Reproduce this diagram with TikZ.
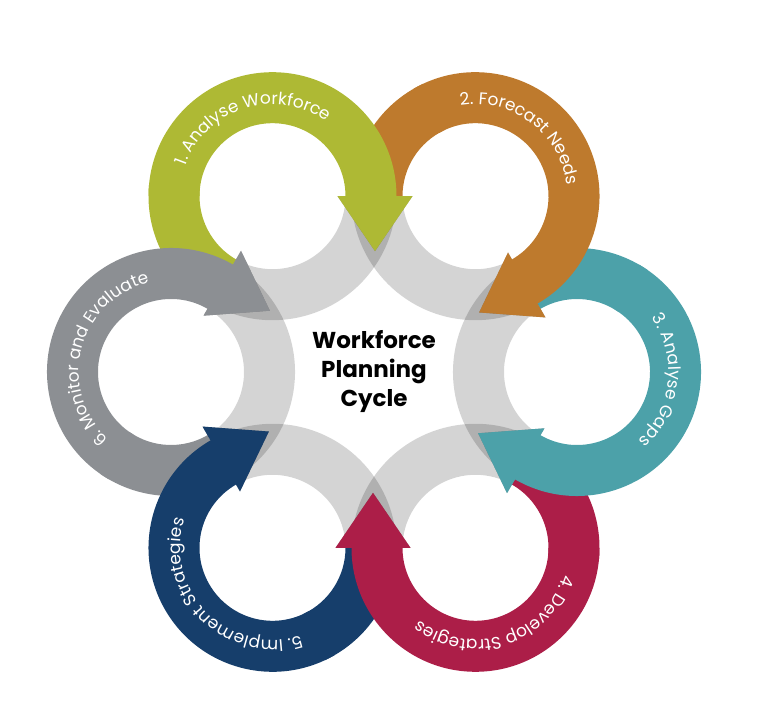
\documentclass[tikz,border=0pt]{standalone}
\usepackage{fontspec}
\setmainfont{Poppins}
\usetikzlibrary{decorations.text}

\definecolor{wfgreen}{RGB}{174,185,52}
\definecolor{wforange}{RGB}{190,122,45}
\definecolor{wfteal}{RGB}{76,161,169}
\definecolor{wfred}{RGB}{172,30,72}
\definecolor{wfblue}{RGB}{22,62,107}
\definecolor{wfgrey}{RGB}{140,143,147}
\newcommand{\arcfont}{\fontsize{17}{17}\selectfont}

\tikzset{
    ringrest/.style={fill=black, fill opacity=0.17},
    headshadow/.style={fill=black, fill opacity=0.28, xshift=2, yshift=-3},
    arctext/.style={decorate, decoration={text along path, text align=center, text color=white}}
}

\begin{document}
\begin{tikzpicture}[x=1pt, y=1pt]
    \useasboundingbox (0,0) rectangle (768,709);

    \coordinate (analyse) at (272.5,512.8);
    \coordinate (forecast) at (475.5,512.8);
    \coordinate (gaps) at (577,337);
    \coordinate (develop) at (475.5,161.2);
    \coordinate (implement) at (272.5,161.2);
    \coordinate (monitor) at (171,337);

    % grey rest of the rings
    \fill[ringrest, shift={(analyse)}] (-120:124) arc[start angle=-120, end angle=0, radius=124] -- (0:73) arc[start angle=0, end angle=-120, radius=73] -- cycle;
    \fill[ringrest, shift={(forecast)}] (-180:124) arc[start angle=-180, end angle=-60, radius=124] -- (-60:73) arc[start angle=-60, end angle=-180, radius=73] -- cycle;
    \fill[ringrest, shift={(gaps)}] (120:124) arc[start angle=120, end angle=240, radius=124] -- (240:73) arc[start angle=240, end angle=120, radius=73] -- cycle;
    \fill[ringrest, shift={(develop)}] (60:124) arc[start angle=60, end angle=180, radius=124] -- (180:73) arc[start angle=180, end angle=60, radius=73] -- cycle;
    \fill[ringrest, shift={(implement)}] (0:124) arc[start angle=0, end angle=120, radius=124] -- (120:73) arc[start angle=120, end angle=0, radius=73] -- cycle;
    \fill[ringrest, shift={(monitor)}] (-60:124) arc[start angle=-60, end angle=60, radius=124] -- (60:73) arc[start angle=60, end angle=-60, radius=73] -- cycle;

    % tails, under the previous arrow
    \fill[wfgreen, shift={(analyse)}] (240:124) arc[start angle=240, end angle=175, radius=124] -- (175:73) arc[start angle=175, end angle=240, radius=73] -- cycle;
    \fill[wforange, shift={(forecast)}] (180:124) arc[start angle=180, end angle=115, radius=124] -- (115:73) arc[start angle=115, end angle=180, radius=73] -- cycle;
    \fill[wfteal, shift={(gaps)}] (120:124) arc[start angle=120, end angle=55, radius=124] -- (55:73) arc[start angle=55, end angle=120, radius=73] -- cycle;
    \fill[wfred, shift={(develop)}] (60:124) arc[start angle=60, end angle=-5, radius=124] -- (-5:73) arc[start angle=-5, end angle=60, radius=73] -- cycle;
    \fill[wfblue, shift={(implement)}] (0:124) arc[start angle=0, end angle=-65, radius=124] -- (-65:73) arc[start angle=-65, end angle=0, radius=73] -- cycle;
    \fill[wfgrey, shift={(monitor)}] (300:124) arc[start angle=300, end angle=235, radius=124] -- (235:73) arc[start angle=235, end angle=300, radius=73] -- cycle;

    % shadows under the heads
    \fill[headshadow, shift={(analyse)}] (0:140) -- ([shift={(-90:55)}]0:102.5) -- (0:65) -- cycle;
    \fill[headshadow, shift={(forecast)}] (-60:140) -- ([shift={(-150:55)}]-60:102.5) -- (-60:65) -- cycle;
    \fill[headshadow, shift={(gaps)}] (-120:140) -- ([shift={(150:55)}]-120:102.5) -- (-120:65) -- cycle;
    \fill[headshadow, shift={(develop)}] (-180:140) -- ([shift={(90:55)}]-180:102.5) -- (-180:65) -- cycle;
    \fill[headshadow, shift={(implement)}] (120:140) -- ([shift={(30:55)}]120:102.5) -- (120:65) -- cycle;
    \fill[headshadow, shift={(monitor)}] (60:140) -- ([shift={(-30:55)}]60:102.5) -- (60:65) -- cycle;

    % arrows
    \fill[wfgreen, shift={(analyse)}] (180:124) arc[start angle=180, end angle=0, radius=124] -- (0:140) -- ([shift={(-90:55)}]0:102.5) -- (0:65) -- (0:73) arc[start angle=0, end angle=180, radius=73] -- cycle;
    \fill[wforange, shift={(forecast)}] (120:124) arc[start angle=120, end angle=-60, radius=124] -- (-60:140) -- ([shift={(-150:55)}]-60:102.5) -- (-60:65) -- (-60:73) arc[start angle=-60, end angle=120, radius=73] -- cycle;
    \fill[wfteal, shift={(gaps)}] (60:124) arc[start angle=60, end angle=-120, radius=124] -- (-120:140) -- ([shift={(150:55)}]-120:102.5) -- (-120:65) -- (-120:73) arc[start angle=-120, end angle=60, radius=73] -- cycle;
    \fill[wfred, shift={(develop)}] (0:124) arc[start angle=0, end angle=-180, radius=124] -- (-180:140) -- ([shift={(90:55)}]-180:102.5) -- (-180:65) -- (-180:73) arc[start angle=-180, end angle=0, radius=73] -- cycle;
    \fill[wfblue, shift={(implement)}] (300:124) arc[start angle=300, end angle=120, radius=124] -- (120:140) -- ([shift={(30:55)}]120:102.5) -- (120:65) -- (120:73) arc[start angle=120, end angle=300, radius=73] -- cycle;
    \fill[wfgrey, shift={(monitor)}] (240:124) arc[start angle=240, end angle=60, radius=124] -- (60:140) -- ([shift={(-30:55)}]60:102.5) -- (60:65) -- (60:73) arc[start angle=60, end angle=240, radius=73] -- cycle;

    % labels on the arrows
    \path[arctext, decoration={text={|\arcfont|1. Analyse Workforce}}, shift={(analyse)}] (207.5:92) arc[start angle=207.5, end angle=7.5, radius=92];
    \path[arctext, decoration={text={|\arcfont|2. Forecast Needs}}, shift={(forecast)}] (153:92) arc[start angle=153, end angle=-47, radius=92];
    \path[arctext, decoration={text={|\arcfont|3. Analyse Gaps}}, shift={(gaps)}] (94:92) arc[start angle=94, end angle=-106, radius=92];
    \path[arctext, decoration={text={|\arcfont|4. Develop Strategies}}, shift={(develop)}] (27.5:92) arc[start angle=27.5, end angle=-172.5, radius=92];
    \path[arctext, decoration={text={|\arcfont|5. Implement Strategies}}, shift={(implement)}] (325:92) arc[start angle=325, end angle=125, radius=92];
    \path[arctext, decoration={text={|\arcfont|6. Monitor and Evaluate}}, shift={(monitor)}] (265.5:92) arc[start angle=265.5, end angle=65.5, radius=92];

    \node[font=\fontsize{23}{29}\selectfont\bfseries, align=center] (title) at (374,337) {Workforce\\Planning\\Cycle};
\end{tikzpicture}
\end{document}
